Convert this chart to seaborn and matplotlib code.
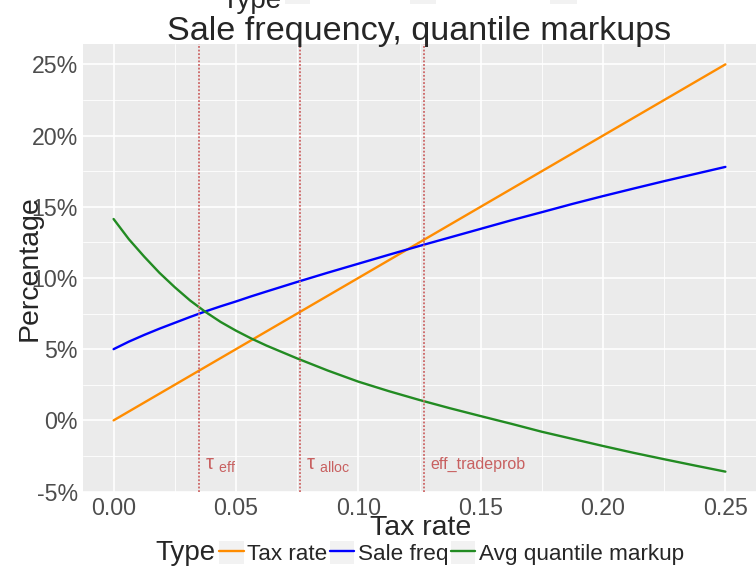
import numpy as np
import pandas as pd
import matplotlib
matplotlib.use("Agg")
import matplotlib.pyplot as plt
import seaborn as sns
from matplotlib.patches import Rectangle
from matplotlib.lines import Line2D
from matplotlib.legend_handler import HandlerTuple
from matplotlib.ticker import MultipleLocator, FixedLocator, FuncFormatter

# ---------------- data ----------------
tax_grid = [0.0, 0.00625, 0.0125, 0.01875, 0.025, 0.03125, 0.0375, 0.04375, 0.05, 0.05625,
            0.0625, 0.075, 0.0875, 0.1, 0.1125, 0.125, 0.1375, 0.15, 0.1625, 0.175,
            0.1875, 0.2, 0.2125, 0.225, 0.2375, 0.25]
tax_rate_pct = [0.0, 0.625, 1.25, 1.875, 2.5, 3.125, 3.75, 4.375, 5.0, 5.625,
                6.25, 7.5, 8.75, 10.0, 11.25, 12.5, 13.75, 15.0, 16.25, 17.5,
                18.75, 20.0, 21.25, 22.5, 23.75, 25.0]
sale_freq_pct = [5.0, 5.53, 6.0, 6.44, 6.85, 7.26, 7.65, 8.01, 8.35, 8.71,
                 9.05, 9.72, 10.37, 11.0, 11.63, 12.25, 12.85, 13.45, 14.05, 14.62,
                 15.2, 15.75, 16.28, 16.8, 17.3, 17.8]
markup_pct = [14.14, 12.72, 11.5, 10.36, 9.35, 8.42, 7.62, 6.91, 6.3, 5.75,
              5.25, 4.35, 3.5, 2.72, 2.05, 1.43, 0.85, 0.3, -0.24, -0.8,
              -1.3, -1.8, -2.28, -2.73, -3.17, -3.6]

series_names = ["Tax rate", "Sale freq", "Avg quantile markup"]
series_colors = ["#FF8C00", "#0000FF", "#228B22"]

vline_x = [0.0351, 0.0762, 0.1270]
vline_labels = [r"$\mathrm{\tau\ {}_{eff}}$", r"$\mathrm{\tau\ {}_{alloc}}$", "eff_tradeprob"]
vline_fontsizes = [14.5, 14.5, 11.5]

x_ticks = [0.0, 0.05, 0.10, 0.15, 0.20, 0.25]
y_ticks = [-5, 0, 5, 10, 15, 20, 25]

df = pd.DataFrame({
    "tax": tax_grid * 3,
    "value": tax_rate_pct + sale_freq_pct + markup_pct,
    "Type": [series_names[0]] * len(tax_grid) + [series_names[1]] * len(tax_grid)
            + [series_names[2]] * len(tax_grid),
})

# ---------------- style ----------------
sns.set_theme(style="darkgrid", rc={
    "axes.facecolor": "#EBEBEB",
    "grid.color": "white",
    "axes.edgecolor": "#EBEBEB",
})
plt.rcParams["font.family"] = ["Liberation Sans", "DejaVu Sans"]
plt.rcParams["mathtext.fontset"] = "custom"
plt.rcParams["mathtext.rm"] = "Liberation Sans"
plt.rcParams["mathtext.it"] = "Liberation Sans:italic"

W, H = 756, 573
fig = plt.figure(figsize=(W / 100, H / 100), dpi=100)
pl, pr, pt, pb = 83, 756, 44, 492
ax = fig.add_axes([pl / W, 1 - pb / H, (pr - pl) / W, (pb - pt) / H])

palette = dict(zip(series_names, series_colors))
sns.lineplot(data=df, x="tax", y="value", hue="Type", palette=palette,
             hue_order=series_names, linewidth=1.7, ax=ax, legend=False)

for xv, lab, fs in zip(vline_x, vline_labels, vline_fontsizes):
    ax.axvline(xv, color="#CC6666", linestyle=(0, (1, 1)), linewidth=1.3, zorder=3)
    ax.text(xv + 0.0023, -3.44, lab, color="#C86060", fontsize=fs,
            ha="left", va="baseline")

ax.set_xlim(-0.0125, 0.2625)
ax.set_ylim(-5.03, 26.43)
ax.xaxis.set_major_locator(FixedLocator(x_ticks))
ax.yaxis.set_major_locator(FixedLocator(y_ticks))
ax.xaxis.set_minor_locator(MultipleLocator(0.025))
ax.yaxis.set_minor_locator(MultipleLocator(2.5))
ax.xaxis.set_major_formatter(FuncFormatter(lambda v, p: f"{v:.2f}"))
ax.yaxis.set_major_formatter(FuncFormatter(lambda v, p: f"{int(round(v))}%"))
ax.grid(which="major", color="white", linewidth=1.2)
ax.grid(which="minor", color="white", linewidth=0.6)
ax.tick_params(which="major", length=2.5, width=0.8, color="#333333",
               labelcolor="#4D4D4D", labelsize=16.7, pad=1.2)
ax.tick_params(which="minor", length=0)
for s in ax.spines.values():
    s.set_visible(False)

ax.set_xlabel("Tax rate", fontsize=20.5, va="baseline")
ax.xaxis.set_label_coords(0.502, -(535 - pb) / (pb - pt))
ax.set_ylabel("Percentage", fontsize=20.5, va="center", ha="center")
ax.yaxis.set_label_coords((30 - pl) / (pr - pl), 0.5)
ax.set_title("Sale frequency, quantile markups", fontsize=24.6, pad=2.9)

# bottom legend
handles = [(Rectangle((0, 0), 1, 1, facecolor="#F2F2F2", edgecolor="none"),
            Line2D([], [], color=c, linewidth=1.7)) for c in series_colors]
leg = fig.legend(handles, series_names, handler_map={tuple: HandlerTuple(ndivide=1)},
                 loc="center left", bbox_to_anchor=(219 / W, 1 - 553 / H),
                 ncol=3, frameon=False, fontsize=16.2, handlelength=1.1,
                 handleheight=1.2, handletextpad=0.15, columnspacing=0.1,
                 borderpad=0, borderaxespad=0)
fig.text(216 / W, 1 - 553 / H, "Type", fontsize=20, ha="right", va="center")

# clipped legend remnants at the very top
fig.text(281 / W, 1 - 8 / H, "Type", fontsize=20, ha="right", va="baseline")
for x0, x1 in [(285, 310), (410, 436), (550, 577)]:
    fig.patches.append(Rectangle((x0 / W, 1 - 4 / H), (x1 - x0) / W, 6 / H,
                                 transform=fig.transFigure, facecolor="#F2F2F2",
                                 edgecolor="none"))

fig.savefig("out.png", dpi=100)
